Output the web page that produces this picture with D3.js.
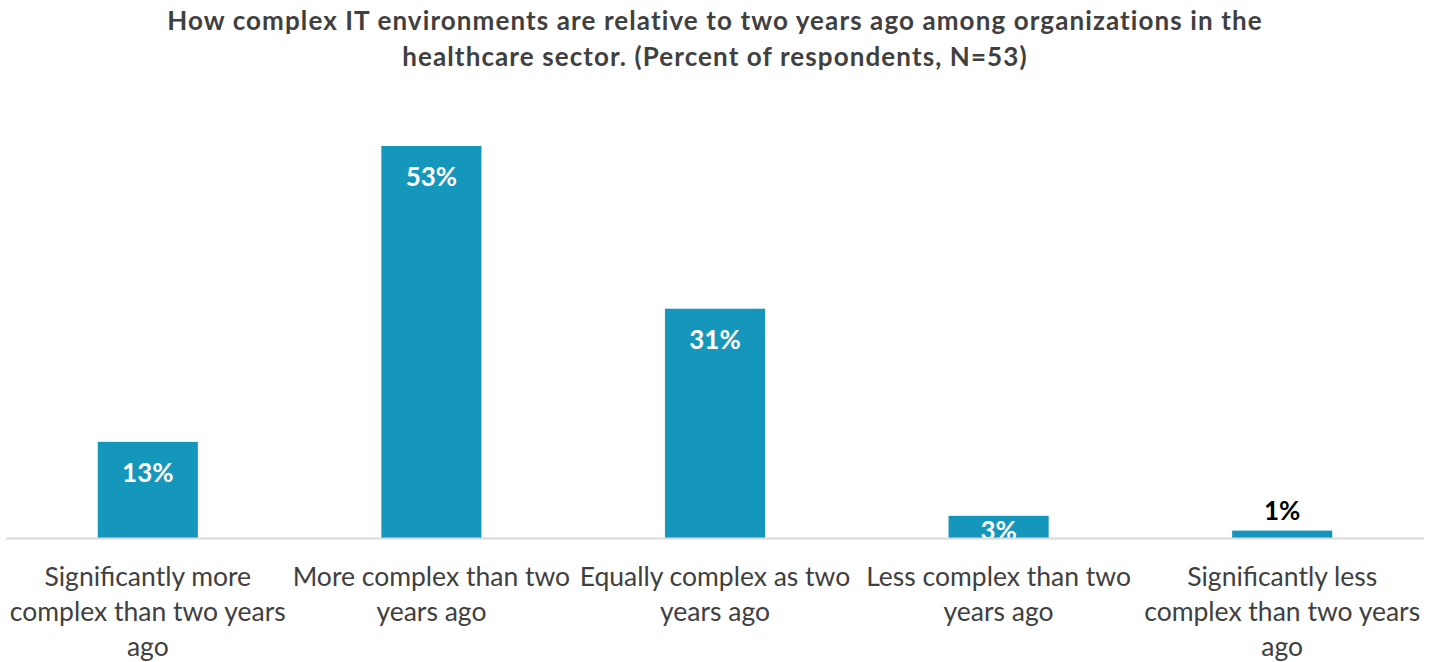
<!DOCTYPE html>
<html>
<head>
<meta charset="utf-8">
<script src="https://cdn.jsdelivr.net/npm/d3@7"></script>
<style>
  body { margin: 0; background: #fff; }
  svg { display: block; font-family: Lato, "Open Sans", sans-serif; }
</style>
</head>
<body>
<div id="chart"></div>
<script>
// data
var titleLines = [
  "How complex IT environments are relative to two years ago among organizations in the",
  "healthcare sector. (Percent of respondents, N=53)"
];
var categories = [
  ["Significantly more", "complex than two years", "ago"],
  ["More complex than two", "years ago"],
  ["Equally complex as two", "years ago"],
  ["Less complex than two", "years ago"],
  ["Significantly less", "complex than two years", "ago"]
];
var values = [13, 53, 31, 3, 1];

var width = 1440, height = 662;
var baseline = 538; //y of the zero line
var barColor = "#1596bb";
var textColor = "#404040";

var svg = d3.select("#chart").append("svg")
    .attr("width", width)
    .attr("height", height);

// title
svg.append("g").selectAll("text")
    .data(titleLines)
  .enter().append("text")
    .attr("x", 715)
    .attr("y", function(d, i){ return 30 + i*36; })
    .attr("text-anchor", "middle")
    .attr("font-size", 26)
    .attr("letter-spacing", 1.1)
    .attr("font-weight", "bold")
    .attr("fill", textColor)
    .text(function(d){ return d; });

var x = d3.scaleBand()
    .domain(d3.range(values.length))
    .range([6, 1424])
    .paddingInner(0.647)
    .paddingOuter(0.3235);

var y = d3.scaleLinear()
    .domain([0, 53])
    .range([baseline, 146]);

// bars
svg.append("g").selectAll("rect")
    .data(values)
  .enter().append("rect")
    .attr("x", function(d, i){ return x(i); })
    .attr("y", function(d){ return y(d); })
    .attr("width", x.bandwidth())
    .attr("height", function(d){ return y(0) - y(d); })
    .attr("fill", barColor);

// value labels - inside top if tall enough, centred if short, above if tiny
svg.append("g").selectAll("text")
    .data(values)
  .enter().append("text")
    .attr("x", function(d, i){ return x(i) + x.bandwidth()/2; })
    .attr("y", function(d){
        var h = y(0) - y(d);
        if(h >= 45) return y(d) + 40;
        if(h >= 15) return y(d) + h/2 + 13;
        return y(d) - 11;
    })
    .attr("text-anchor", "middle")
    .attr("font-size", 26)
    .attr("font-weight", "bold")
    .attr("fill", function(d){ return (y(0) - y(d)) >= 15 ? "#fff" : "#000"; })
    .text(function(d){ return d + "%"; });

// white cover below the axis hides the bottom of the 3% label
svg.append("rect")
    .attr("x", 0).attr("y", baseline + 1)
    .attr("width", width).attr("height", 20)
    .attr("fill", "#fff");

// zero line
svg.append("line")
    .attr("x1", 6).attr("x2", 1424)
    .attr("y1", baseline + 0.5).attr("y2", baseline + 0.5)
    .attr("stroke", "#d9d9d9")
    .attr("stroke-width", 2);

// category labels
var cats = svg.append("g").selectAll("text")
    .data(categories)
  .enter().append("text")
    .attr("text-anchor", "middle")
    .attr("font-size", 26.5)
    .attr("fill", textColor);

cats.selectAll("tspan")
    .data(function(d, i){ return d.map(function(t){ return {t: t, i: i}; }); })
  .enter().append("tspan")
    .attr("x", function(d){ return x(d.i) + x.bandwidth()/2; })
    .attr("y", function(d, j){ return 586 + j*35; })
    .text(function(d){ return d.t; });
</script>
</body>
</html>
